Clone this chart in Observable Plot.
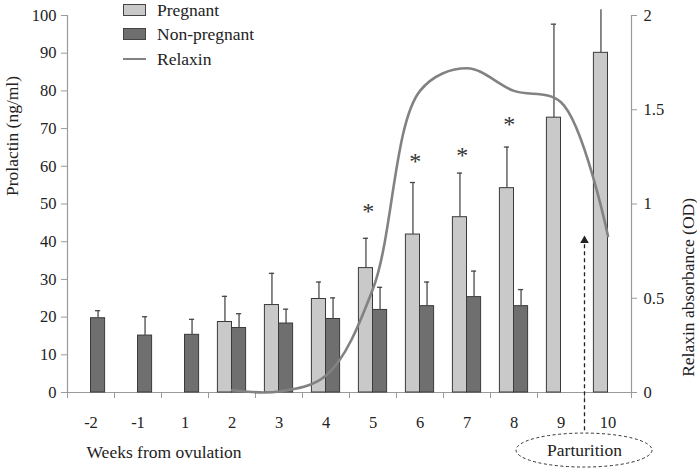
<!DOCTYPE html>
<html>
<head>
<meta charset="utf-8">
<script src="https://cdn.jsdelivr.net/npm/d3@7"></script>
<script src="https://cdn.jsdelivr.net/npm/@observablehq/plot@0.6"></script>
<style>
  html, body { margin: 0; padding: 0; background: #fff; }
  #wrap { position: relative; width: 697px; height: 469px; font-family: "Liberation Serif", "Times New Roman", Times, "DejaVu Serif", serif; color: #222; }
  #legend { position: absolute; left: 123px; top: 0px; font-size: 17.5px; }
  .item { position: absolute; left: 0; height: 20px; white-space: nowrap; }
  .sw { position: absolute; left: 0; width: 21px; height: 10px; border: 1px solid #444; }
  .ln { position: absolute; left: 0; width: 23px; height: 0; border-top: 2.5px solid #828282; }
  .lab { position: absolute; left: 34px; top: 0; line-height: 20px; }
</style>
</head>
<body>
<div id="wrap">
  <div id="chart"></div>
  <div id="legend"></div>
</div>
<script>
// ---- data ----
const weeks = ["-2", "-1", "1", "2", "3", "4", "5", "6", "7", "8", "9", "10"];
const pregnant    = [null, null, null, 18.7, 23.2, 24.8, 33.0, 41.9, 46.5, 54.2, 72.9, 90.1];
const pregnantErr = [null, null, null, 25.5, 31.6, 29.3, 40.9, 55.7, 58.2, 65.1, 97.7, 101.5];
const nonPregnant    = [19.7, 15.1, 15.3, 17.1, 18.3, 19.5, 21.9, 22.9, 25.3, 22.9, null, null];
const nonPregnantErr = [21.7, 20.1, 19.4, 20.9, 22.1, 25.1, 27.9, 29.3, 32.2, 27.3, null, null];
const relaxin = [null, null, null, 0.012, 0.005, 0.09, 0.55, 1.60, 1.72, 1.60, 1.54, 0.83];
const starWeeks = ["5", "6", "7", "8"];
const starY = [49.1, 62.3, 63.9, 72.1];
const yTicks = [0, 10, 20, 30, 40, 50, 60, 70, 80, 90, 100];
const relaxinTicks = [0, 0.5, 1, 1.5, 2];
const seriesNames = ["Pregnant", "Non-pregnant", "Relaxin"];
const colors = { preg: "#c9c9c9", np: "#6f6f6f", relaxin: "#828282", outline: "#3a3a3a", axis: "#9a9a9a", err: "#4a4a4a" };
const relaxinMax = 2; // right axis max
const parturitionAt = 10.5; // boundary between weeks 9 and 10 (band index)
const serif = "'Liberation Serif', 'Times New Roman', Times, 'DejaVu Serif', serif";

// ---- derived table ----
const rows = weeks.map((w, i) => ({
  i, week: w,
  preg: pregnant[i], pregErr: pregnantErr[i],
  np: nonPregnant[i], npErr: nonPregnantErr[i],
  relaxin: relaxin[i]
}));
const barW = 0.3;
const cap = 0.055;
const toY = v => v * 100 / relaxinMax;
const pregRows = rows.filter(d => d.preg != null);
const npRows = rows.filter(d => d.np != null);
const relRows = rows.filter(d => d.relaxin != null);
const stars = starWeeks.map((w, k) => ({ i: weeks.indexOf(w), y: starY[k] }));

const plot = Plot.plot({
  width: 697,
  height: 469,
  marginLeft: 67,
  marginRight: 66,
  marginTop: 15,
  marginBottom: 77,
  style: { fontFamily: serif, fontSize: "16.5px", color: "#222", background: "#fff" },
  x: { type: "linear", domain: [-0.5, 11.5] },
  y: { domain: [0, 100] },
  marks: [
    // axis lines
    Plot.ruleX([-0.5, 11.5], { y1: 0, y2: 100, stroke: colors.axis, strokeWidth: 1.2 }),
    Plot.ruleY([0], { x1: -0.5, x2: 11.5, stroke: colors.axis, strokeWidth: 1.2 }),
    // axes
    Plot.axisY({ anchor: "left", ticks: yTicks, tickSize: 6, tickPadding: 5, stroke: colors.axis, label: null }),
    Plot.axisY({ anchor: "right", ticks: relaxinTicks.map(toY), tickFormat: d => String(d * relaxinMax / 100), tickSize: 5, tickPadding: 7, stroke: colors.axis, label: null }),
    Plot.axisX({ ticks: d3.range(-0.5, 12, 1), tickFormat: () => "", tickSize: 6, stroke: colors.axis, label: null }),
    Plot.axisX({ ticks: d3.range(0, 12), tickFormat: i => weeks[i], tickSize: 0, tickPadding: 24, label: null }),
    // axis titles
    Plot.text(["Prolactin (ng/ml)"], { frameAnchor: "left", rotate: -90, dx: -55, dy: -8, fontSize: 17.5 }),
    Plot.text(["Relaxin absorbance (OD)"], { frameAnchor: "right", rotate: -90, dx: 57, dy: -6, fontSize: 17.5 }),
    Plot.text(["Weeks from ovulation"], { frameAnchor: "bottom-left", textAnchor: "start", dx: 19, dy: 65, fontSize: 17.5 }),
    // bars
    Plot.rect(pregRows, { x1: d => d.i - barW, x2: d => d.i, y1: 0, y2: "preg", fill: colors.preg, stroke: colors.outline, strokeWidth: 1 }),
    Plot.rect(npRows, { x1: d => d.i, x2: d => d.i + barW, y1: 0, y2: "np", fill: colors.np, stroke: colors.outline, strokeWidth: 1 }),
    // error bars
    Plot.ruleX(pregRows, { x: d => d.i - barW / 2, y1: "preg", y2: "pregErr", stroke: colors.err, strokeWidth: 1.3 }),
    Plot.ruleY(pregRows.filter(d => d.pregErr <= 100), { y: "pregErr", x1: d => d.i - barW / 2 - cap, x2: d => d.i - barW / 2 + cap, stroke: colors.err, strokeWidth: 1.3 }),
    Plot.ruleX(npRows, { x: d => d.i + barW / 2, y1: "np", y2: "npErr", stroke: colors.err, strokeWidth: 1.3 }),
    Plot.ruleY(npRows, { y: "npErr", x1: d => d.i + barW / 2 - cap, x2: d => d.i + barW / 2 + cap, stroke: colors.err, strokeWidth: 1.3 }),
    // relaxin line
    Plot.line(relRows, { x: "i", y: d => toY(d.relaxin), curve: "catmull-rom", stroke: colors.relaxin, strokeWidth: 2.6 }),
    // significance stars
    Plot.text(stars, { x: d => d.i - 0.1, y: "y", text: () => "*", fontSize: 24, lineAnchor: "middle", dy: 4, fill: "#333" }),
    // parturition arrow
    Plot.link([parturitionAt], { x1: d => d, x2: d => d, y1: -10, y2: 40.5, stroke: "#222", strokeWidth: 1.3, strokeDasharray: "4,3" }),
    Plot.dot([parturitionAt], { x: d => d, y: 40.3, symbol: "triangle", r: 3.2, fill: "#222", stroke: "none" }),
    Plot.text(["Parturition"], { x: parturitionAt, y: -15.4, fontSize: 17.5, lineAnchor: "middle" })
  ]
});

document.getElementById("chart").appendChild(plot);

// dashed ellipse round the "Parturition" label, positioned with the plot's scales
const sx = plot.scale("x"), sy = plot.scale("y");
d3.select(plot).append("ellipse")
  .attr("cx", sx.apply(parturitionAt))
  .attr("cy", sy.apply(-15.4))
  .attr("rx", 68).attr("ry", 17)
  .attr("fill", "none").attr("stroke", "#333").attr("stroke-width", 1)
  .attr("stroke-dasharray", "3,2.5");

// legend
const legend = d3.select("#legend");
const tops = [0, 24, 49];
seriesNames.forEach((name, k) => {
  const it = legend.append("div").attr("class", "item").style("top", tops[k] + "px");
  if (k < 2) {
    it.append("div").attr("class", "sw").style("top", "4px").style("background", k === 0 ? colors.preg : colors.np);
  } else {
    it.append("div").attr("class", "ln").style("top", "9px");
  }
  it.append("div").attr("class", "lab").text(name);
});
</script>
</body>
</html>
